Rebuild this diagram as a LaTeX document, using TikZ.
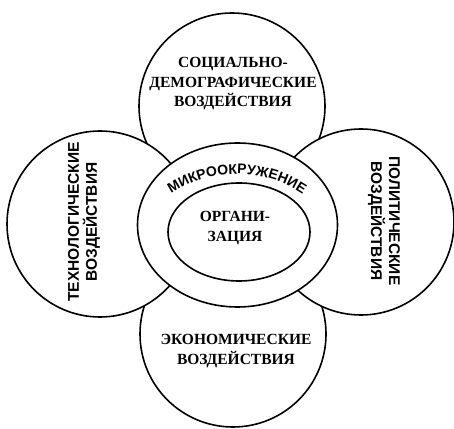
\documentclass[tikz,border=0pt]{standalone}
\usepackage{fontspec}
\setmainfont{Liberation Serif}
\setsansfont{Liberation Sans}
\usetikzlibrary{decorations.text,calc}
\newcommand{\ringWidth}[0]{1.6pt}
\newcommand{\circR}[0]{93}

\begin{document}
\begin{tikzpicture}[x=1pt, y=1pt]
  \tikzset{
    sphere/.style={draw, fill=white, line width=\ringWidth},
    serifText/.style={align=center, font=\fontsize{15.5}{19.5}\selectfont\rmfamily\bfseries},
    sansText/.style={align=center, font=\fontsize{15.5}{18}\selectfont\sffamily\bfseries}
  }
  \useasboundingbox (0,0) rectangle (454,428);
  % outer forces
  \draw[sphere] (232,322) circle (\circR);
  \draw[sphere] (233,94) circle (\circR);
  \draw[sphere] (100,204) circle (\circR);
  \draw[sphere] (361,206) circle (\circR);
  % micro environment and organisation
  \draw[sphere] (237.5,203) ellipse [x radius=100, y radius=82];
  \draw[sphere] (239,196) ellipse [x radius=71, y radius=49];
  \node[serifText] (social) at (233,344) {СОЦИАЛЬНО-\\ДЕМОГРАФИЧЕСКИЕ\\ВОЗДЕЙСТВИЯ};
  \node[serifText] (econ) at (236,77) {ЭКОНОМИЧЕСКИЕ\\ВОЗДЕЙСТВИЯ};
  \node[sansText, rotate=90] (tech) at (84,206) {ТЕХНОЛОГИЧЕСКИЕ\\ВОЗДЕЙСТВИЯ};
  \node[sansText, rotate=-90] (polit) at (384,207) {ПОЛИТИЧЕСКИЕ\\ВОЗДЕЙСТВИЯ};
  \node[serifText] (org) at (235,200) {ОРГАНИ-\\ЗАЦИЯ};
  \coordinate (arcC) at (237,136);
  \path[decorate, decoration={text along path, text align=center,
      text={|\fontsize{14}{14}\selectfont\sffamily\bfseries|МИКРООКРУЖЕНИЕ}}]
    ($(arcC)+(130:118)$) arc[start angle=130, end angle=50, radius=118];
\end{tikzpicture}
\end{document}
